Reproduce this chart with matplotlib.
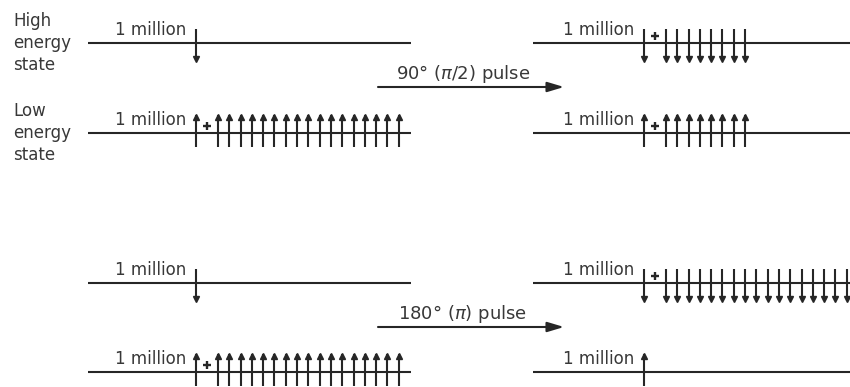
import matplotlib
matplotlib.use("Agg")
from matplotlib import pyplot as plt

# --- diagram data ---
state_labels = ["High\nenergy\nstate", "Low\nenergy\nstate"]
base_label = "1 million"
pulse_labels = ["90° ($\\pi/2$) pulse", "180° ($\\pi$) pulse"]

# spins in excess of the 1 million pair, one entry per pulse row
high_extra_before = [0, 0]
low_extra_before = [17, 17]
high_extra_after = [8, 17]
low_extra_after = [8, 0]

# --- layout (pixel space) ---
W, H = 850, 387
row_high_y = [43, 283]
row_low_y = [133, 372]
row_pulse_y = [87, 327]
col_line_x = [(88, 411), (533, 850)]
col_first_x = [196, 644]
extra_offset = 22
spacing = 11.3
tail_len = 14
head_len = 18
ink = "#262626"
text_ink = "#383838"

fig = plt.figure(figsize=(W / 100, H / 100), dpi=100)
ax = fig.add_axes([0, 0, 1, 1])
ax.set_xlim(0, W)
ax.set_ylim(H, 0)
ax.axis("off")


def draw_level(col, y, n_extra, up):
    x0, x1 = col_line_x[col]
    ax.plot([x0, x1], [y, y], color=ink, lw=1.5, solid_capstyle="butt")
    first = col_first_x[col]
    xs = [first] + [first + extra_offset + i * spacing for i in range(n_extra)]
    if up:
        ax.vlines(xs, y - head_len, y + tail_len, color=ink, lw=1.5)
        ax.plot(xs, [y - head_len + 2] * len(xs), ls="none", marker="^",
                ms=4, color=ink)
    else:
        ax.vlines(xs, y - tail_len, y + head_len, color=ink, lw=1.5)
        ax.plot(xs, [y + head_len - 2] * len(xs), ls="none", marker="v",
                ms=4, color=ink)
    if n_extra > 0:
        ax.plot(first + extra_offset / 2, y - 7, marker="+", ms=5.5, mew=1.7,
                color=ink)
    ax.text(first - 10, y - 8, base_label, ha="right", va="baseline",
            fontsize=12, color=text_ink)


for r in range(2):
    draw_level(0, row_high_y[r], high_extra_before[r], up=False)
    draw_level(0, row_low_y[r], low_extra_before[r], up=True)
    draw_level(1, row_high_y[r], high_extra_after[r], up=False)
    draw_level(1, row_low_y[r], low_extra_after[r], up=True)

    py = row_pulse_y[r]
    ax.annotate("", xy=(564, py), xytext=(378, py),
                arrowprops=dict(arrowstyle="-|>,head_length=1.0,head_width=0.3",
                                lw=1.5, color=ink, shrinkA=0, shrinkB=0,
                                mutation_scale=10))
    ax.text(463, py - 8, pulse_labels[r], ha="center", va="baseline",
            fontsize=13, color=text_ink)

ax.text(13, row_high_y[0], state_labels[0], ha="left", va="center",
        fontsize=12, color=text_ink, linespacing=1.25)
ax.text(13, row_low_y[0], state_labels[1], ha="left", va="center",
        fontsize=12, color=text_ink, linespacing=1.25)

fig.savefig("out.png", dpi=100)
